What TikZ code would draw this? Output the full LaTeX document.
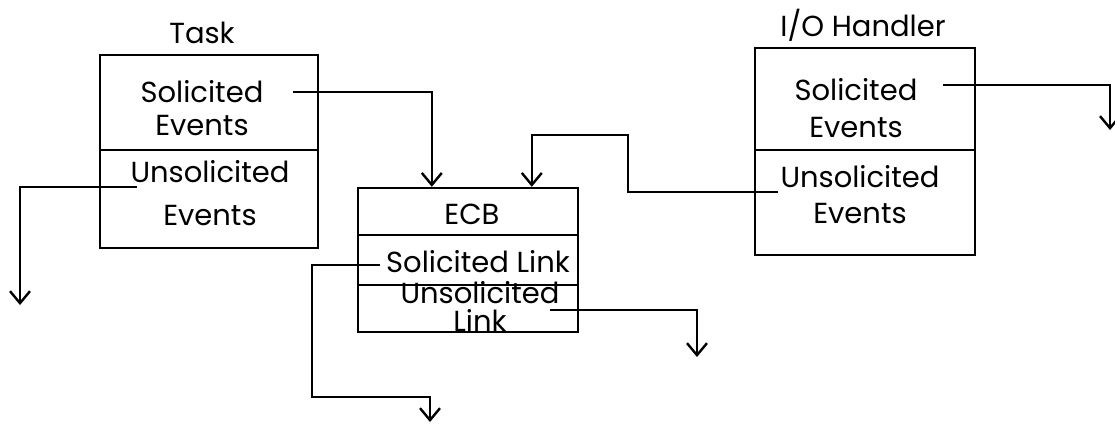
\documentclass[tikz,border=0pt]{standalone}
\usepackage{fontspec}
\setmainfont{Poppins}
\usetikzlibrary{arrows.meta,calc}

\begin{document}
\begin{tikzpicture}[x=0.5pt,y=-0.5pt,line width=1.2pt,
    part/.style={draw, minimum width=110pt, inner sep=0pt},
    txt/.style={align=center, inner sep=0pt, font=\fontsize{14.5}{16.5}\selectfont},
    flow/.style={-{Straight Barb[length=6pt,width=10pt]}}]
  \useasboundingbox (0,0) rectangle (1115,430);

  % Task
  \node[txt] (tasklabel) at (202,33) {Task};
  \node[part, minimum width=109pt, minimum height=47.5pt] (taskS) at (209,102.5) {};
  \node[part, minimum width=109pt, minimum height=49pt] (taskU) at (209,199) {};
  \node[txt] (taskStext) at (202,108.5) {Solicited\\Events};
  \node[txt] (taskUtext) at (210,193) {Unsolicited\\[5pt]Events};

  % ECB
  \node[part, minimum height=23.5pt] (ecbT) at (468,211.5) {};
  \node[part, minimum height=25pt] (ecbS) at (468,260) {};
  \node[part, minimum height=23.5pt] (ecbU) at (468,308.5) {};
  \node[txt] (ecbTtext) at (472,214.5) {ECB};
  \node[txt] (ecbStext) at (478,262) {Solicited Link};
  \node[txt] (ecbUtext) at (480,306) {Unsolicited\\[-2.5pt]Link};

  % I/O Handler
  \node[txt] (iolabel) at (863,25) {I/O Handler};
  \node[part, minimum height=51pt] (ioS) at (865,99) {};
  \node[part, minimum height=52.5pt] (ioU) at (865,202.5) {};
  \node[txt] (ioStext) at (856,108) {Solicited\\[2pt]Events};
  \node[txt] (ioUtext) at (860,194.5) {Unsolicited\\[1.5pt]Events};

  % free ends of the links
  \coordinate (tsStart) at (293,92);
  \coordinate (tuStart) at (137,187);
  \coordinate (tuEnd) at (20,305);
  \coordinate (isStart) at (943,85);
  \coordinate (isEnd) at (1110,130);
  \coordinate (iuStart) at (778,192);
  \coordinate (esStart) at (380,265);
  \coordinate (esEnd) at (430,422);
  \coordinate (euStart) at (550,310);
  \coordinate (euEnd) at (697,357);

  \draw[flow] (tsStart) -| ($(ecbT.north west)+(75,0)$);
  \draw[flow] (tuStart) -| (tuEnd);
  \draw[flow] (isStart) -| (isEnd);
  \draw[flow] (iuStart) -- (628,192) -- (628,135) -| ($(ecbT.north west)+(175,0)$);
  \draw[flow] (esStart) -- (312,265) -- (312,397) -| (esEnd);
  \draw[flow] (euStart) -| (euEnd);
\end{tikzpicture}
\end{document}
